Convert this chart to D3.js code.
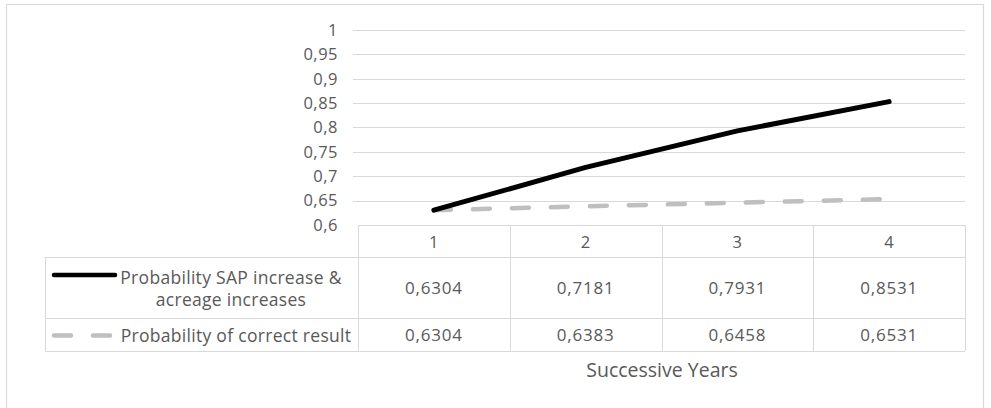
<!DOCTYPE html>
<html>
<head>
<meta charset="utf-8">
<script src="https://cdn.jsdelivr.net/npm/d3@7"></script>
<style>
  html, body { margin: 0; padding: 0; background: #ffffff; }
  svg text { font-family: "Open Sans", "Noto Sans", sans-serif; fill: #595959; }
</style>
</head>
<body>
<svg id="chart" width="991" height="408"></svg>
<script>
const categories = ["1", "2", "3", "4"];
const seriesNames = ["Probability SAP increase & acreage increases", "Probability of correct result"];
const seriesLabelLines = [["Probability SAP increase &", "acreage increases"], ["Probability of correct result"]];
const sapValues = [0.6304, 0.7181, 0.7931, 0.8531];
const correctValues = [0.6304, 0.6383, 0.6458, 0.6531];
const yTicks = [0.6, 0.65, 0.7, 0.75, 0.8, 0.85, 0.9, 0.95, 1];
const axisTitle = "Successive Years";

const series = [
  { name: seriesNames[0], lines: seriesLabelLines[0], values: sapValues, color: "#000000", dash: null },
  { name: seriesNames[1], lines: seriesLabelLines[1], values: correctValues, color: "#BFBFBF", dash: "17,22" }
];

const locale = d3.formatLocale({ decimal: ",", thousands: ".", grouping: [3], currency: ["", ""] });
const fmtTick = v => locale.format("~g")(v);
const fmtVal = locale.format(".4f");

const svg = d3.select("#chart");
const gridColor = "#D9D9D9";

// outer chart border
svg.append("path")
  .attr("d", "M6.5,420 V4.5 H983.5 V420")
  .attr("fill", "none").attr("stroke", gridColor).attr("stroke-width", 1.2);

const plotLeft = 353, tableLeft = 358, right = 965, legendLeft = 45;
const x = d3.scaleBand().domain(categories).range([tableLeft, right]);
const y = d3.scaleLinear().domain([0.6, 1]).range([225, 30]);

const rowHeader = [225, 257], row1 = [257, 318], row2 = [318, 351];

// gridlines
svg.append("g").selectAll("line").data(yTicks.filter(t => t > 0.6))
  .join("line")
  .attr("x1", plotLeft).attr("x2", right)
  .attr("y1", d => Math.round(y(d)) + 0.5).attr("y2", d => Math.round(y(d)) + 0.5)
  .attr("stroke", gridColor).attr("stroke-width", 1);

// y tick labels
svg.append("g").selectAll("text").data(yTicks)
  .join("text")
  .attr("x", 338).attr("y", d => y(d))
  .attr("dy", "0.35em")
  .attr("text-anchor", "end")
  .attr("font-size", 16.5)
  .attr("letter-spacing", 0.5)
  .text(d => fmtTick(d));

// data table grid
const tg = svg.append("g").attr("stroke", gridColor).attr("stroke-width", 1).attr("fill", "none");
tg.append("line").attr("x1", tableLeft).attr("x2", right).attr("y1", rowHeader[0] + 0.5).attr("y2", rowHeader[0] + 0.5);
[rowHeader[1], row1[1], row2[1]].forEach(yy => {
  tg.append("line").attr("x1", legendLeft).attr("x2", right).attr("y1", yy + 0.5).attr("y2", yy + 0.5);
});
tg.append("line").attr("x1", legendLeft + 0.5).attr("x2", legendLeft + 0.5).attr("y1", rowHeader[1]).attr("y2", row2[1]);
const colEdges = [tableLeft].concat(categories.map(c => x(c) + x.bandwidth()));
colEdges.forEach(xx => {
  tg.append("line").attr("x1", Math.round(xx) + 0.5).attr("x2", Math.round(xx) + 0.5)
    .attr("y1", rowHeader[0]).attr("y2", row2[1]);
});

// header labels
svg.append("g").selectAll("text").data(categories)
  .join("text")
  .attr("x", d => x(d) + x.bandwidth() / 2)
  .attr("y", (rowHeader[0] + rowHeader[1]) / 2 + 1)
  .attr("dy", "0.35em").attr("text-anchor", "middle")
  .attr("font-size", 16.5).attr("letter-spacing", 0.5)
  .text(d => d);

// value cells
const rows = [row1, row2];
series.forEach((s, i) => {
  const r = rows[i];
  svg.append("g").selectAll("text").data(s.values)
    .join("text")
    .attr("x", (d, j) => x(categories[j]) + x.bandwidth() / 2)
    .attr("y", (r[0] + r[1]) / 2 + 1)
    .attr("dy", "0.35em").attr("text-anchor", "middle")
    .attr("font-size", 17).attr("letter-spacing", 0.8)
    .text(d => fmtVal(d));

  // legend key
  const ky = i === 0 ? r[0] + 18 : (r[0] + r[1]) / 2 + 1;
  const key = svg.append("line")
    .attr("x1", 54).attr("x2", 115)
    .attr("y1", ky).attr("y2", ky)
    .attr("stroke", s.color).attr("stroke-width", 4.5)
    .attr("stroke-linecap", "round");
  if (s.dash) key.attr("stroke-dasharray", s.dash);

  // label text
  const n = s.lines.length;
  const cy = (r[0] + r[1]) / 2 + 1;
  s.lines.forEach((ln, k) => {
    svg.append("text")
      .attr("x", i === 0 ? 231 : 236)
      .attr("y", cy + (k - (n - 1) / 2) * 22)
      .attr("dy", "0.35em").attr("text-anchor", "middle")
      .attr("font-size", 17.5).attr("letter-spacing", 0.3)
      .text(ln);
  });
});

// lines
const lineGen = d3.line()
  .x((d, j) => x(categories[j]) + x.bandwidth() / 2)
  .y(d => y(d));

// draw gray first then black on top
[series[1], series[0]].forEach(s => {
  const p = svg.append("path")
    .datum(s.values)
    .attr("d", lineGen)
    .attr("fill", "none")
    .attr("stroke", s.color)
    .attr("stroke-width", s.dash ? 4.5 : 5)
    .attr("stroke-linecap", "round")
    .attr("stroke-linejoin", "round");
  if (s.dash) p.attr("stroke-dasharray", s.dash);
});

// axis title
svg.append("text")
  .attr("x", (tableLeft + right) / 2 + 0.5)
  .attr("y", 370)
  .attr("dy", "0.35em").attr("text-anchor", "middle")
  .attr("font-size", 19.5)
  .text(axisTitle);
</script>
</body>
</html>
